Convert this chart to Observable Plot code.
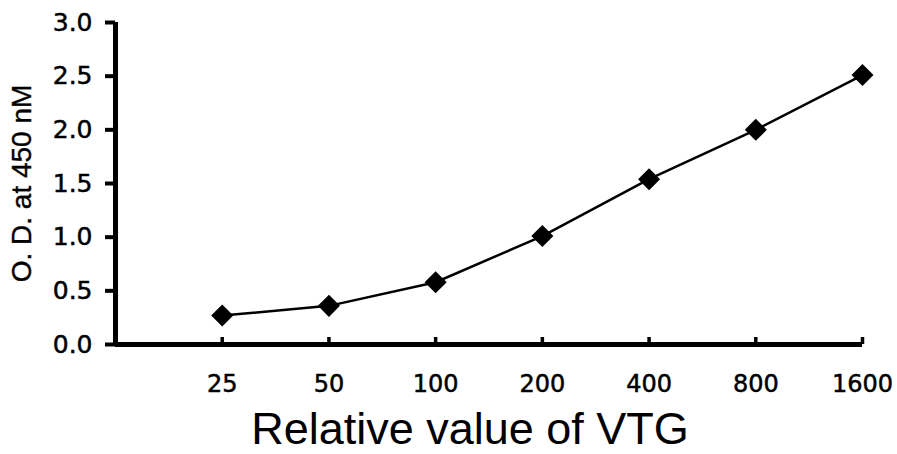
<!DOCTYPE html>
<html>
<head>
<meta charset="utf-8">
<script src="https://cdn.jsdelivr.net/npm/d3@7"></script>
<script src="https://cdn.jsdelivr.net/npm/@observablehq/plot@0.6"></script>
<style>
  html, body { margin: 0; padding: 0; background: #fff; }
  #chart svg { display: block; }
  #chart svg g[aria-label="y-axis tick label"] text,
  #chart svg g[aria-label="x-axis tick label"] text { stroke: #000; stroke-width: 0.5px; }
  #chart svg g.ylabel text { stroke: #000; stroke-width: 0.4px; }
</style>
</head>
<body>
<div id="chart"></div>
<script>
// Data
const doses = [25, 50, 100, 200, 400, 800, 1600];          // relative value of VTG
const od = [0.27, 0.36, 0.58, 1.01, 1.54, 2.00, 2.51];      // O.D. at 450 nm
const yTicks = [0, 0.5, 1.0, 1.5, 2.0, 2.5, 3.0];
const xTitle = "Relative value of VTG";
const yTitle = "O. D. at 450 nM";

const data = doses.map((d, i) => ({dose: d, od: od[i]}));
const tickFont = "DejaVu Sans, Verdana, sans-serif";
const titleFont = "Liberation Sans, Arial, Helvetica, sans-serif";

const chart = Plot.plot({
  width: 897,
  height: 454,
  marginLeft: 115,
  marginRight: 35,
  marginTop: 22,
  marginBottom: 110,
  style: {fontFamily: titleFont, color: "#000", background: "#fff"},
  x: {type: "log", base: 2, domain: [12.5, 1600]},
  y: {domain: [0, 3]},
  marks: [
    Plot.axisY({ticks: yTicks, tickFormat: d3.format(".1f"), tickSize: 10, tickPadding: 13, fontSize: 25, fontFamily: tickFont, strokeWidth: 4, label: null}),
    Plot.axisX({ticks: doses, tickFormat: d => String(d), tickSize: -7, tickPadding: 37, fontSize: 24, fontFamily: tickFont, strokeWidth: 3.5, label: null}),
    Plot.ruleX([12.5], {strokeWidth: 5, stroke: "#000", y1: 0, y2: 3}),
    Plot.ruleY([0], {strokeWidth: 5, stroke: "#000"}),
    Plot.line(data, {x: "dose", y: "od", stroke: "#000", strokeWidth: 2.5}),
    Plot.dot(data, {x: "dose", y: "od", symbol: "square", rotate: 45, r: 8.8, fill: "#000", stroke: "none"}),
    Plot.text([xTitle], {frameAnchor: "bottom", dy: 99, dx: -19, fontSize: 45, fontFamily: titleFont, fill: "#000"}),
    Plot.text([yTitle], {frameAnchor: "left", textAnchor: "middle", dx: -93, rotate: -90, fontSize: 28, fontFamily: titleFont, fill: "#000", className: "ylabel"})
  ]
});
document.getElementById("chart").appendChild(chart);
</script>
</body>
</html>
